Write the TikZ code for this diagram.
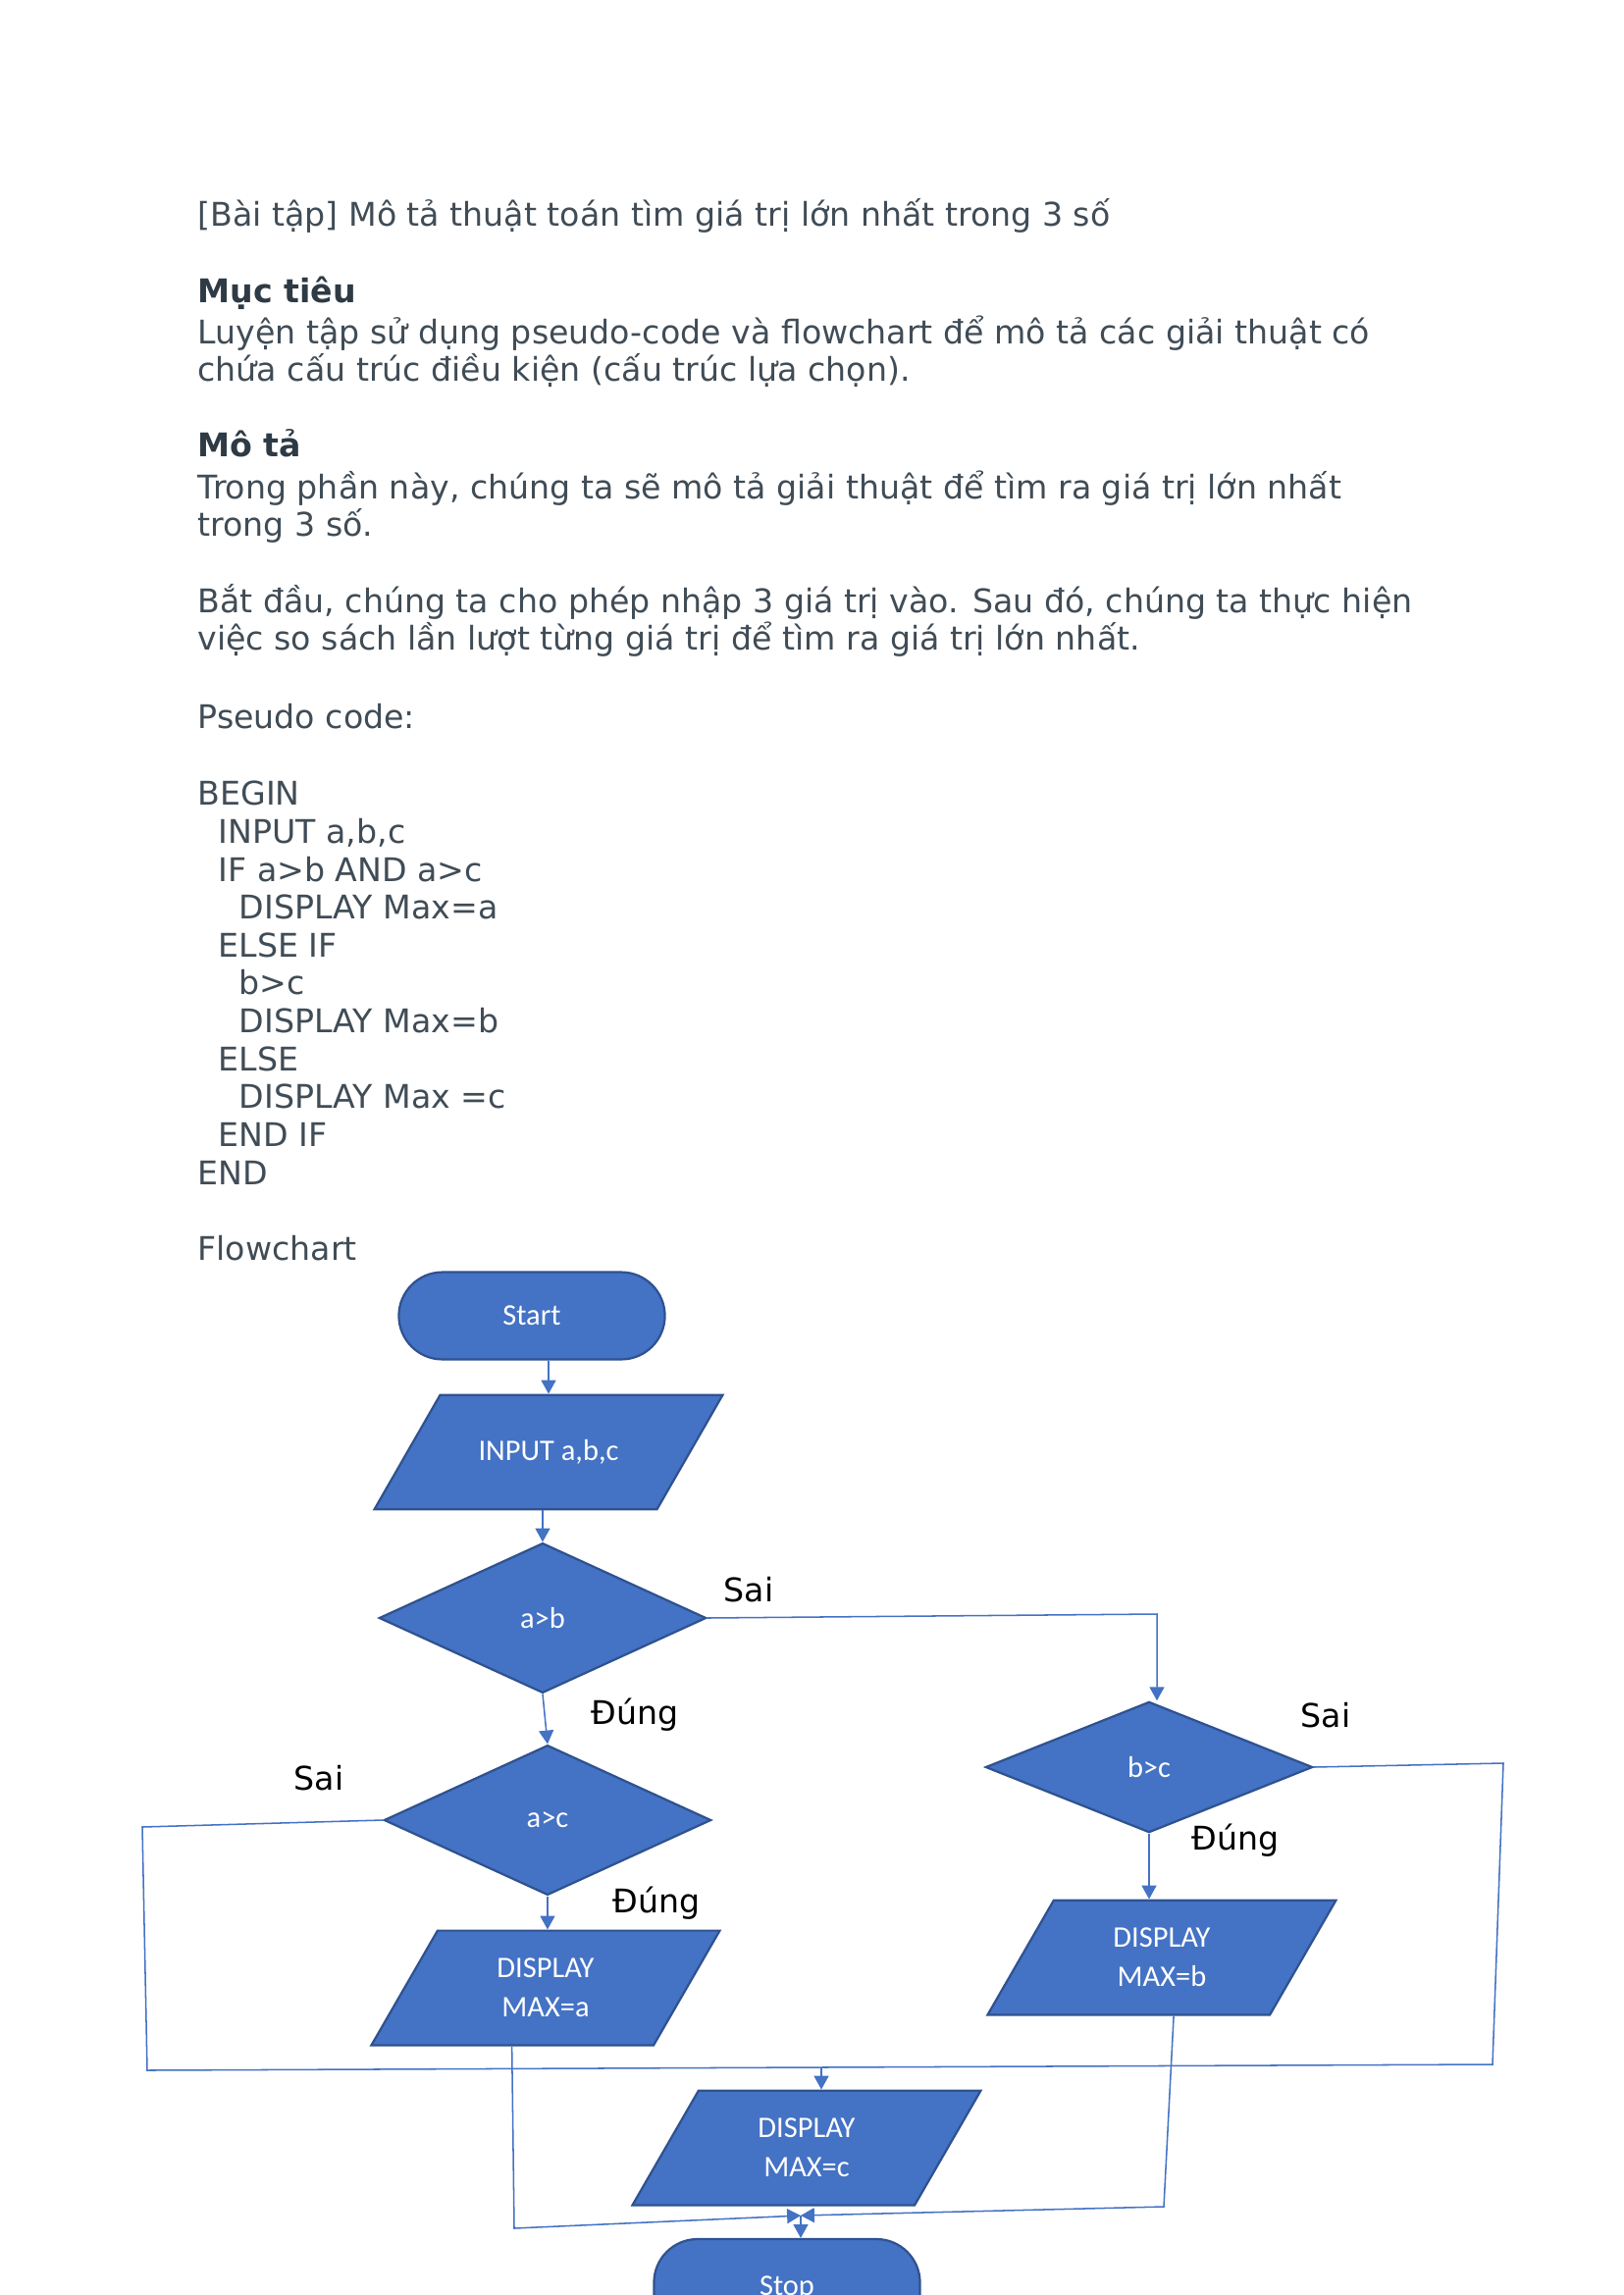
\documentclass[tikz,border=0pt]{standalone}
\usepackage{fontspec}
\setmainfont{DejaVu Sans}
\newfontfamily\calibri{Carlito}
\usetikzlibrary{positioning, arrows.meta, shapes.geometric, calc}

\definecolor{bodytext}{RGB}{64,76,86}
\definecolor{headtext}{RGB}{46,58,68}
\definecolor{shapefill}{RGB}{68,114,196}
\definecolor{shapeline}{RGB}{47,82,143}

\begin{document}
\begin{tikzpicture}[
    x=0.36bp, y=-0.36bp,
    every node/.style={inner sep=0pt},
    para/.style={anchor=base west, align=left, text=bodytext, font=\fontsize{12}{13.95}\selectfont},
    head/.style={para, text=headtext, font=\fontsize{12}{13.95}\selectfont\bfseries},
    term/.style={rectangle, rounded corners=16bp, draw=shapeline, fill=shapefill, line width=0.8bp, minimum width=97.6bp, minimum height=32bp, text=white, font=\calibri\fontsize{11}{13}\selectfont},
    io/.style={trapezium, trapezium left angle=60, trapezium right angle=120, trapezium stretches body=true, inner ysep=10.2bp, draw=shapeline, fill=shapefill, line width=0.8bp, minimum width=127.8bp, minimum height=42bp, text=white, align=center, font=\calibri\fontsize{11}{14.5}\selectfont},
    decision/.style={diamond, draw=shapeline, fill=shapefill, line width=0.8bp, minimum width=120bp, minimum height=55bp, text=white, font=\calibri\fontsize{11}{13}\selectfont},
    answer/.style={font=\fontsize{12}{14}\selectfont},
    arrow/.style={-{Triangle[width=5.4bp,length=5bp]}, draw=shapefill, line width=0.55bp},
    link/.style={draw=shapefill, line width=0.55bp}
]
\useasboundingbox (0,0) rectangle (1654,2339);

% Texte de l'exercice (base = derniere ligne)
\node[para] (title) at (201,231) {[Bài tập] Mô tả thuật toán tìm giá trị lớn nhất trong 3 số};
\node[head] (goalhead) at (201,309) {Mục tiêu};
\node[para] (goaltext) at (201,389) {Luyện tập sử dụng pseudo-code và flowchart để mô tả các giải thuật có\\chứa cấu trúc điều kiện (cấu trúc lựa chọn).};
\node[head] (deschead) at (201,466) {Mô tả};
\node[para] (desctext) at (201,547) {Trong phần này, chúng ta sẽ mô tả giải thuật để tìm ra giá trị lớn nhất\\trong 3 số.};
\node[para] (steptext) at (201,663) {Bắt đầu, chúng ta cho phép nhập 3 giá trị vào. Sau đó, chúng ta thực hiện\\việc so sách lần lượt từng giá trị để tìm ra giá trị lớn nhất.};
\node[para] (codehead) at (201,742) {Pseudo code:};
\node[para] (code) at (201,1207) {BEGIN\\
\hspace{7.6bp}INPUT a,b,c\\
\hspace{7.6bp}IF a>b AND a>c\\
\hspace{15.2bp}DISPLAY Max=a\\
\hspace{7.6bp}ELSE IF\\
\hspace{15.2bp}b>c\\
\hspace{15.2bp}DISPLAY Max=b\\
\hspace{7.6bp}ELSE\\
\hspace{15.2bp}DISPLAY Max =c\\
\hspace{7.6bp}END IF\\
END};
\node[para] (charthead) at (201,1284) {Flowchart};

% Flowchart
\node[term] (start) at (542,1341) {Start};
\node[io, inner ysep=16.4bp] (input) at (559,1480) {INPUT a,b,c};
\node[decision] (ifab) at (553,1649) {a>b};
\node[decision] (ifac) at (558,1855) {a>c};
\node[decision, minimum height=48bp] (ifbc) at (1171,1801) {b>c};
\node[io] (maxa) at (556,2026) {DISPLAY\\MAX=a};
\node[io] (maxb) at (1184,1995) {DISPLAY\\MAX=b};
\node[io] (maxc) at (822,2189) {DISPLAY\\MAX=c};
\node[term, minimum height=36bp] (stop) at (802,2332) {Stop};

% Labels
\node[answer] (abno) at (763,1620) {Sai};
\node[answer] (abyes) at (647,1748) {Đúng};
\node[answer] (acno) at (325,1812) {Sai};
\node[answer] (acyes) at (669,1940) {Đúng};
\node[answer] (bcno) at (1351,1748) {Sai};
\node[answer] (bcyes) at (1259,1876) {Đúng};

% Coins des lignes
\coordinate (abturn) at (1179,1645);
\coordinate (acturn) at (145,1862);
\coordinate (loopleft) at (150,2110);
\coordinate (loopright) at (1521,2104);
\coordinate (bcturn) at (1532,1797);
\coordinate (joinc) at (837,2107);
\coordinate (aturn) at (524,2271);
\coordinate (bturn) at (1186,2249);
\coordinate (merge) at (816,2258);

% Arrows
\draw[arrow] (start.south -| input.north) -- (input.north);
\draw[arrow] (input.south -| ifab.north) -- (ifab.north);
\draw[arrow] (ifab.south) -- (ifac.north);
\draw[arrow] (ifab.east) -- (abturn) -- (abturn |- ifbc.north);
\draw[arrow] (ifac.south) -- (ifac.south |- maxa.north);
\draw[arrow] (ifbc.south) -- (ifbc.south |- maxb.north);
\draw[link] (ifac.west) -- (acturn) -- (loopleft) -- (loopright) -- (bcturn) -- (ifbc.east);
\draw[arrow] (joinc) -- (joinc |- maxc.north);
\draw[arrow] (maxa.bottom side) -- (aturn) -- (merge);
\draw[arrow] ($(maxb.bottom left corner)!0.66!(maxb.bottom right corner)$) -- (bturn) -- (merge);
\draw[arrow] (merge) -- (merge |- stop.north);

\end{tikzpicture}
\end{document}
